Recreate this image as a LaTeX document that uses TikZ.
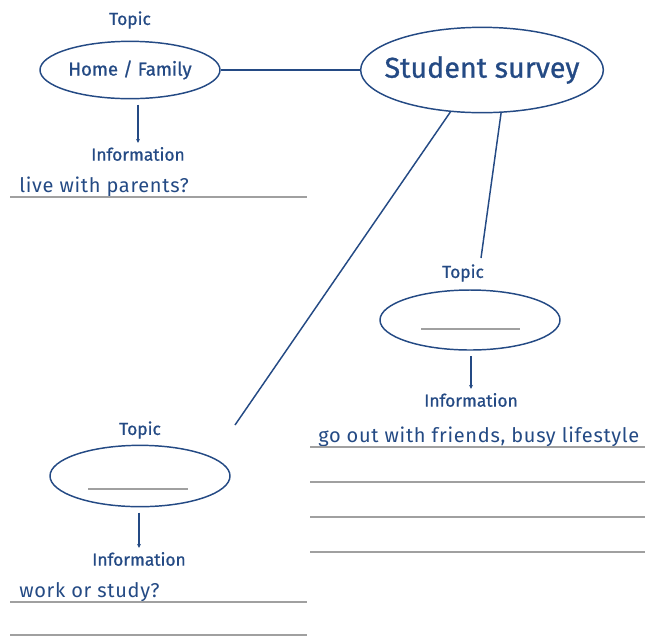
\documentclass[tikz,border=0pt]{standalone}
\usepackage{fontspec}
\setmainfont{Fira Sans}
\newfontfamily\inkfont[FakeBold=0.8]{Fira Sans}
\newfontfamily\handfont[LetterSpace=3.5]{Fira Sans}
\usetikzlibrary{shapes.geometric,arrows.meta,positioning}
\definecolor{inkblue}{RGB}{36,74,132}
\definecolor{rulegray}{RGB}{160,160,160}

\begin{document}
\begin{tikzpicture}[x=0.75pt,y=-0.75pt,
                bubble/.style = {draw=inkblue, ellipse, line width=1.1pt, inner sep=0pt,
                                 text=inkblue, minimum width=135pt, minimum height=43pt},
                lbl/.style = {text=inkblue, inner sep=1pt, font=\inkfont\fontsize{13}{15}\selectfont},
                answer/.style = {text=inkblue, anchor=base west, inner sep=0pt,
                                 font=\handfont\fontsize{15}{17}\selectfont},
                link/.style = {draw=inkblue, line width=1.1pt},
                pointer/.style = {draw=inkblue, line width=0.8pt, -{Stealth[length=3pt,width=3pt]},
                                  shorten <=4pt, shorten >=2pt},
                writeline/.style = {draw=rulegray, line width=1.3pt}
                ]
    \useasboundingbox (0,0) rectangle (646,637);

    % centre
    \node[bubble, inner xsep=-9pt, minimum width=182pt, minimum height=64pt,
          font=\inkfont\fontsize{21.5}{25}\selectfont] (survey) at (482,70) {Student survey};

    % topic 1
    \node[lbl] (topicA) at (130,20) {Topic};
    \node[bubble, font=\inkfont\fontsize{14}{16}\selectfont] (home) at (130,70) {Home / Family};
    \node[lbl] (infoA) at (138,154) {Information};
    \draw[pointer] (home.south -| infoA.north) -- (infoA.north);
    \node[answer] (ansA) at (19,192) {live with parents?};
    \draw[writeline] (10,197) -- (307,197);

    % topic 2
    \node[lbl] (topicB) at (463,273) {Topic};
    \node[bubble, minimum height=45pt] (blankB) at (470,320) {};
    \draw[writeline] (421,329) -- (520,329);
    \node[lbl] (infoB) at (471,400) {Information};
    \draw[pointer] (blankB.south -| infoB.north) -- (infoB.north);
    \node[answer] (ansB) at (318,442) {go out with friends, busy lifestyle};
    \foreach \y in {447,482,517,552}
        \draw[writeline] (310,\y) -- (645,\y);

    % topic 3
    \node[lbl] (topicC) at (140,430) {Topic};
    \node[bubble, minimum height=46pt] (blankC) at (140,476) {};
    \draw[writeline] (88,489) -- (188,489);
    \node[lbl] (infoC) at (139,559) {Information};
    \draw[pointer] (blankC.south -| infoC.north) -- (infoC.north);
    \node[answer] (ansC) at (19,597) {work or study?};
    \draw[writeline] (10,602) -- (307,602);
    \draw[writeline] (10,635) -- (307,635);

    % branches
    \coordinate (endB) at (481,258);
    \coordinate (endC) at (235,425);
    \draw[link] (home) -- (survey);
    \draw[link] (survey.-66) -- (endB);
    \draw[link] (survey.-127) -- (endC);
\end{tikzpicture}
\end{document}
